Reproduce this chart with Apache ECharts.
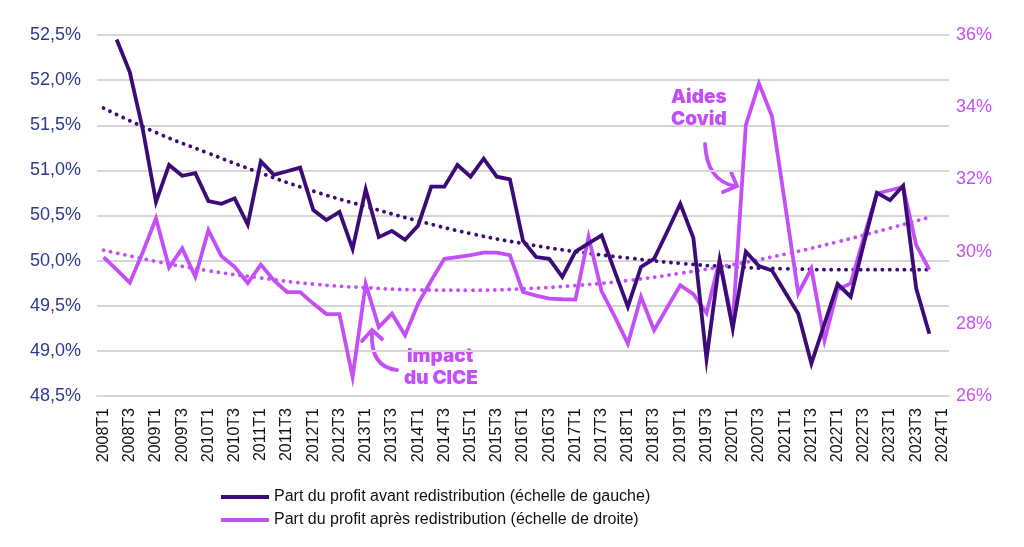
<!DOCTYPE html>
<html>
<head>
<meta charset="utf-8">
<script src="https://cdn.jsdelivr.net/npm/echarts@6/dist/echarts.min.js"></script>
<style>
html,body{margin:0;padding:0;background:#ffffff;}
#chart{width:1024px;height:547px;}
</style>
</head>
<body>
<div id="chart"></div>
<script>
// ---- Categories (quarters) ----
const quarters = [
 '2008T1','2008T2','2008T3','2008T4','2009T1','2009T2','2009T3','2009T4',
 '2010T1','2010T2','2010T3','2010T4','2011T1','2011T2','2011T3','2011T4',
 '2012T1','2012T2','2012T3','2012T4','2013T1','2013T2','2013T3','2013T4',
 '2014T1','2014T2','2014T3','2014T4','2015T1','2015T2','2015T3','2015T4',
 '2016T1','2016T2','2016T3','2016T4','2017T1','2017T2','2017T3','2017T4',
 '2018T1','2018T2','2018T3','2018T4','2019T1','2019T2','2019T3','2019T4',
 '2020T1','2020T2','2020T3','2020T4','2021T1','2021T2','2021T3','2021T4',
 '2022T1','2022T2','2022T3','2022T4','2023T1','2023T2','2023T3','2023T4',
 '2024T1'
];

// ---- Series values (%) ----
// Part du profit avant redistribution (left scale)
const avantRedistribution = [
 null, 52.45, 52.09, 51.45, 50.65, 51.06, 50.94, 50.97, 50.66, 50.63,
 50.69, 50.40, 51.10, 50.95, 50.99, 51.03, 50.56, 50.45, 50.54, 50.13,
 50.79, 50.26, 50.33, 50.23, 50.39, 50.82, 50.82, 51.06, 50.93, 51.13,
 50.93, 50.90, 50.22, 50.04, 50.02, 49.82, 50.10, 50.19, 50.28, 49.88,
 49.49, 49.93, 50.02, 50.32, 50.63, 50.25, 48.91, 50.00, 49.25, 50.10,
 49.94, 49.89, 49.65, 49.41, 48.86, 49.30, 49.74, 49.60, 50.19, 50.75,
 50.67, 50.83, 49.69, 49.19
];
// Part du profit après redistribution (right scale)
const apresRedistribution = [
 29.85, 29.50, 29.14, 29.99, 30.92, 29.56, 30.09, 29.30, 30.59, 29.87,
 29.58, 29.13, 29.64, 29.20, 28.88, 28.88, 28.56, 28.27, 28.27, 26.53,
 29.10, 27.91, 28.28, 27.68, 28.56, 29.20, 29.80, 29.85, 29.90, 29.97,
 29.97, 29.90, 28.88, 28.78, 28.70, 28.68, 28.67, 30.41, 28.90, 28.20,
 27.45, 28.75, 27.82, 28.45, 29.07, 28.82, 28.30, 29.76, 28.00, 33.50,
 34.66, 33.74, 31.30, 28.84, 29.53, 27.54, 28.95, 29.12, 30.40, 31.61,
 31.70, 31.79, 30.18, 29.50
];
// Dotted trend curves at yearly points
const trendAvant = [
 ['2008T1',51.69],['2009T1',51.42],['2010T1',51.19],['2011T1',50.97],
 ['2012T1',50.77],['2013T1',50.60],['2014T1',50.44],['2015T1',50.30],
 ['2016T1',50.19],['2017T1',50.10],['2018T1',50.03],['2019T1',49.97],
 ['2020T1',49.93],['2021T1',49.91],['2022T1',49.90],['2023T1',49.90],
 ['2023T4',49.90]
];
const trendApres = [
 ['2008T1',30.04],['2009T1',29.73],['2010T1',29.47],['2011T1',29.27],
 ['2012T1',29.10],['2013T1',29.00],['2014T1',28.94],['2015T1',28.93],
 ['2016T1',28.97],['2017T1',29.06],['2018T1',29.20],['2019T1',29.40],
 ['2020T1',29.64],['2021T1',29.93],['2022T1',30.27],['2023T1',30.65],
 ['2023T4',30.95]
];

const seriesNames = [
 'Part du profit avant redistribution (échelle de gauche)',
 'Part du profit après redistribution (échelle de droite)'
];

const DARK = '#3b0b77';
const LIGHT = '#c44ff6';
const NAVY = '#2f3a8c';
const FONT = '"Liberation Sans", Arial, sans-serif';
const BOLD = 'Inter, "Noto Sans", sans-serif';

const chart = echarts.init(document.getElementById('chart'), null, {renderer: 'canvas'});

const option = {
  animation: false,
  backgroundColor: '#ffffff',
  grid: {left: 97, right: 75, top: 35, bottom: 151, containLabel: false},
  legend: {
    data: seriesNames,
    orient: 'vertical',
    left: 216,
    top: 484,
    itemGap: 7,
    itemWidth: 48,
    itemHeight: 4,
    icon: 'rect',
    textStyle: {fontFamily: FONT, fontSize: 16, color: '#111111'}
  },
  xAxis: {
    type: 'category',
    data: quarters,
    boundaryGap: true,
    axisLine: {show: true, lineStyle: {color: '#d6d6d6', width: 2}},
    axisTick: {show: false},
    axisLabel: {
      interval: 1,
      rotate: 90,
      fontFamily: FONT,
      fontSize: 16,
      color: '#111111',
      margin: 12
    },
    splitLine: {show: false}
  },
  yAxis: [
    {
      type: 'value',
      min: 48.5,
      max: 52.5,
      interval: 0.5,
      position: 'left',
      axisLine: {show: false},
      axisTick: {show: false},
      axisLabel: {
        fontFamily: FONT,
        fontSize: 18,
        color: NAVY,
        margin: 16,
        formatter: v => v.toFixed(1).replace('.', ',') + '%'
      },
      splitLine: {show: true, lineStyle: {color: '#d6d6d6', width: 2}}
    },
    {
      type: 'value',
      min: 26,
      max: 36,
      interval: 2,
      position: 'right',
      axisLine: {show: false},
      axisTick: {show: false},
      axisLabel: {
        fontFamily: FONT,
        fontSize: 18,
        color: LIGHT,
        margin: 7,
        formatter: v => v + '%'
      },
      splitLine: {show: false}
    }
  ],
  series: [
    {
      name: seriesNames[0],
      type: 'line',
      yAxisIndex: 0,
      data: avantRedistribution,
      showSymbol: false,
      symbol: 'none',
      lineStyle: {color: DARK, width: 3.8, join: 'miter'},
      itemStyle: {color: DARK},
      z: 4
    },
    {
      name: seriesNames[1],
      type: 'line',
      yAxisIndex: 1,
      data: apresRedistribution,
      showSymbol: false,
      symbol: 'none',
      lineStyle: {color: LIGHT, width: 3.8, join: 'miter'},
      itemStyle: {color: LIGHT},
      z: 3
    },
    {
      name: 'Tendance avant',
      type: 'line',
      yAxisIndex: 0,
      data: trendAvant,
      smooth: true,
      showSymbol: false,
      symbol: 'none',
      lineStyle: {color: DARK, width: 3.8, type: [0.1, 7.2], cap: 'round'},
      z: 2
    },
    {
      name: 'Tendance après',
      type: 'line',
      yAxisIndex: 1,
      data: trendApres,
      smooth: true,
      showSymbol: false,
      symbol: 'none',
      lineStyle: {color: LIGHT, width: 3.8, type: [0.1, 7.2], cap: 'round'},
      z: 2
    }
  ],
  graphic: [
    {type: 'text', left: 671, top: 88, style: {text: 'Aides', font: '900 19px ' + BOLD, fill: LIGHT}},
    {type: 'text', left: 671, top: 110, style: {text: 'Covid', font: '900 19px ' + BOLD, fill: LIGHT}},
    {type: 'bezierCurve', shape: {x1: 705, y1: 144, cpx1: 707, cpy1: 181, x2: 735, y2: 186},
      style: {stroke: LIGHT, lineWidth: 3.8, fill: null, lineCap: 'round'}},
    {type: 'polyline', shape: {points: [[723, 192], [737, 186], [731, 172]]},
      style: {stroke: LIGHT, lineWidth: 3.8, fill: null, lineCap: 'round', lineJoin: 'miter'}},
    {type: 'text', left: 407, top: 347, style: {text: 'Impact', font: '900 19px ' + BOLD, fill: LIGHT}},
    {type: 'text', left: 404, top: 369, style: {text: 'du CICE', font: '900 19px ' + BOLD, fill: LIGHT}},
    {type: 'bezierCurve', shape: {x1: 397, y1: 370, cpx1: 370, cpy1: 367, x2: 372, y2: 332},
      style: {stroke: LIGHT, lineWidth: 3.8, fill: null, lineCap: 'round'}},
    {type: 'polyline', shape: {points: [[362, 341], [372, 330], [382, 339]]},
      style: {stroke: LIGHT, lineWidth: 3.8, fill: null, lineCap: 'round', lineJoin: 'miter'}}
  ]
};

chart.setOption(option);
</script>
</body>
</html>
